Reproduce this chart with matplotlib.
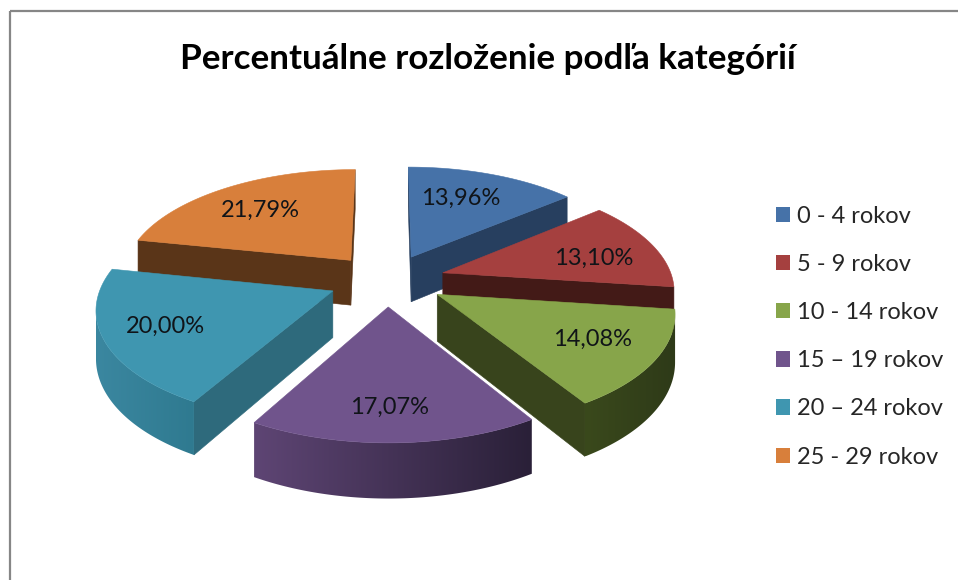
import numpy as np
import matplotlib
matplotlib.use("Agg")
import matplotlib.pyplot as plt
from matplotlib.patches import Polygon, Patch, Rectangle
from matplotlib.colors import to_rgb

title = "Percentuálne rozloženie podľa kategórií"
categories = ["0 - 4 rokov", "5 - 9 rokov", "10 - 14 rokov", "15 – 19 rokov", "20 – 24 rokov", "25 - 29 rokov"]
values = [13.96, 13.10, 14.08, 17.07, 20.00, 21.79]
top_colors = ["#4672A8", "#A5403F", "#87A54A", "#70548C", "#3F96B0", "#D87F3B"]
radial_colors = ["#273F5F", "#431A17", "#38441C", "#3A2B4A", "#2E6A7C", "#5A3518"]
rim_left_colors = ["#273F5F", "#5A2422", "#3A491C", "#5E4574", "#3B87A0", "#5A3518"]
rim_right_colors = ["#273F5F", "#431A17", "#2E3A18", "#2A2038", "#2F7A90", "#5A3518"]
label_positions = [(461, 198), (594, 258), (593, 339), (390, 407), (165, 326), (260, 210)]

CX, CY = 387, 280
R, K, P, EXPL_X, EXPL_Y, H = 230, 0.472, 0.14, 0.255, 0.24, 46

plt.rcParams["font.family"] = ["Lato", "DejaVu Sans"]
fig = plt.figure(figsize=(9.58, 5.8), dpi=100, facecolor="white")
ax = fig.add_axes([0, 0, 1, 1])
ax.axis("off")

ax.add_patch(Rectangle((10, 11), 1000, 700, fill=False, ec="#868686", lw=1.6, zorder=1))


def proj(u, v, z):
    s = 1 / (1 + P * v)
    return CX + u * R * s, CY - v * R * K * s + (H * s if z == 0 else 0)


def area(pts):
    a = np.array(pts)
    return 0.5 * np.sum(a[:, 0] * np.roll(a[:, 1], -1) - np.roll(a[:, 0], -1) * a[:, 1])


edges = np.concatenate([[0], np.cumsum(values)]) / sum(values) * 2 * np.pi
slices = []
for i in range(len(values)):
    mid = (edges[i] + edges[i + 1]) / 2
    slices.append((EXPL_Y * np.cos(mid), i, mid))

for ev, i, mid in sorted(slices, reverse=True):
    ox, oy = EXPL_X * np.sin(mid), EXPL_Y * np.cos(mid)
    th = np.linspace(edges[i], edges[i + 1], 160)
    rim = [(ox + np.sin(t), oy + np.cos(t)) for t in th]
    apex = (ox, oy)
    z = 10 - ev
    top = [proj(*apex, 1)] + [proj(u, v, 1) for u, v in rim]
    # radial side faces, only those turned towards the viewer
    for a, b in ((apex, rim[0]), (rim[-1], apex)):
        quad = [proj(*a, 1), proj(*b, 1), proj(*b, 0), proj(*a, 0)]
        if area(quad) < 0:
            ax.add_patch(Polygon(quad, closed=True, fc=radial_colors[i], ec=radial_colors[i], lw=0.4, zorder=z))
    # outer rim: visible part as one outline filled with a horizontal gradient
    vis = [j for j in range(len(rim) - 1)
           if area([proj(*rim[j], 1), proj(*rim[j + 1], 1), proj(*rim[j + 1], 0), proj(*rim[j], 0)]) < 0]
    if vis:
        j0, j1 = vis[0], vis[-1] + 1
        upper = [proj(*rim[j], 1) for j in range(j0, j1 + 1)]
        lower = [proj(*rim[j], 0) for j in range(j1, j0 - 1, -1)]
        outline = upper + lower
        pts = np.array(outline)
        x0, x1 = pts[:, 0].min(), pts[:, 0].max()
        y0, y1 = pts[:, 1].min(), pts[:, 1].max()
        c0, c1 = np.array(to_rgb(rim_left_colors[i])), np.array(to_rgb(rim_right_colors[i]))
        grad = c0 + (c1 - c0) * np.linspace(0, 1, 256)[None, :, None]
        clip = Polygon(outline, closed=True, fc="none", ec="none", transform=ax.transData)
        ax.add_patch(clip)
        im = ax.imshow(grad, extent=(x0, x1, y1, y0), aspect="auto", interpolation="bilinear", zorder=z)
        im.set_clip_path(clip)
    ax.add_patch(Polygon(top, closed=True, fc=top_colors[i], ec=top_colors[i], lw=0.4, zorder=z + 0.01))

for v, (x, y) in zip(values, label_positions):
    ax.text(x, y, f"{v:.2f}".replace(".", ",") + "%", ha="center", va="center",
            fontsize=17, color="#101418", zorder=30)

ax.text(488, 59, title, ha="center", va="center", fontsize=25.2, fontweight="bold", color="black", zorder=30)

ax.set_xlim(0, 958)
ax.set_ylim(580, 0)

handles = [Patch(fc=c, ec="none") for c in top_colors]
ax.legend(handles, categories, loc="upper left", bbox_to_anchor=(769 / 958, 1 - 198.7 / 580),
          frameon=False, fontsize=17, labelcolor="#262626", labelspacing=1.15,
          handlelength=0.6, handleheight=0.62, handletextpad=0.3, borderpad=0.3, borderaxespad=0)

fig.savefig("out.png", dpi=100, facecolor="white")
